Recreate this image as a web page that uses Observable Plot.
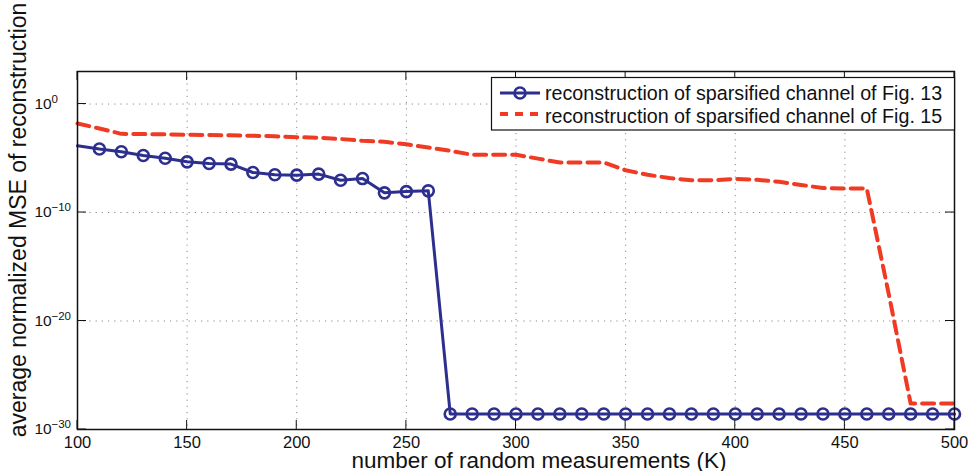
<!DOCTYPE html>
<html>
<head>
<meta charset="utf-8">
<script src="https://cdn.jsdelivr.net/npm/d3@7"></script>
<script src="https://cdn.jsdelivr.net/npm/@observablehq/plot@0.6"></script>
<style>
  body { margin: 0; background: #fff; }
  #chart svg { display: block; }
</style>
</head>
<body>
<div id="chart"></div>
<script>
// Number of random measurements K
const measurements = [100,110,120,130,140,150,160,170,180,190,200,210,220,230,240,250,260,270,280,290,300,
  310,320,330,340,350,360,370,380,390,400,410,420,430,440,450,460,470,480,490,500];

// Average normalized MSE, sparsified channel of Fig. 13
const mseFig13 = [1.4e-4,7.1e-5,4.0e-5,1.8e-5,1.0e-5,4.7e-6,3.3e-6,2.9e-6,4.9e-7,3.0e-7,2.8e-7,3.5e-7,9.5e-8,1.35e-7,
  6.5e-9,8.5e-9,1.0e-8,2.7e-29,2.7e-29,2.7e-29,2.7e-29,2.7e-29,2.7e-29,2.7e-29,2.7e-29,2.7e-29,2.7e-29,2.7e-29,
  2.7e-29,2.7e-29,2.7e-29,2.7e-29,2.7e-29,2.7e-29,2.7e-29,2.7e-29,2.7e-29,2.7e-29,2.7e-29,2.7e-29,2.7e-29];

// Average normalized MSE, sparsified channel of Fig. 15
const mseFig15 = [1.6e-2,5.6e-3,1.8e-3,1.7e-3,1.6e-3,1.5e-3,1.4e-3,1.3e-3,1.2e-3,1.07e-3,8.9e-4,7.9e-4,6.0e-4,4.1e-4,
  3.3e-4,1.95e-4,1.0e-4,4.9e-5,2.1e-5,2.1e-5,2.1e-5,9.3e-6,4.1e-6,4.1e-6,4.1e-6,7.9e-7,3.0e-7,1.5e-7,9.5e-8,9.5e-8,
  1.26e-7,1.05e-7,6.8e-8,3.5e-8,1.8e-8,1.66e-8,1.66e-8,3.2e-18,2.5e-28,2.5e-28,2.5e-28];

const xTicks = [100,150,200,250,300,350,400,450,500];
const yTickExponents = [0,-10,-20,-30];
const seriesNames = [
  "reconstruction of sparsified channel of Fig. 13",
  "reconstruction of sparsified channel of Fig. 15"
];
const xLabel = "number of random measurements (K)";
const yLabel = "average normalized MSE of reconstruction";

(() => {
  const BLUE = "#2c2f8e";
  const RED = "#ef3b24";
  const FONT = "'Liberation Sans', Arial, Helvetica, sans-serif";

  const rows13 = measurements.map((k, i) => ({k, mse: mseFig13[i]}));
  const rows15 = measurements.map((k, i) => ({k, mse: mseFig15[i]}));
  const yTicks = yTickExponents.map(e => Math.pow(10, e));

  const plot = Plot.plot({
    width: 968,
    height: 471,
    marginLeft: 77,
    marginRight: 14,
    marginTop: 71,
    marginBottom: 42,
    style: {fontFamily: FONT, background: "#fff", overflow: "visible", color: "#111"},
    x: {domain: [100, 500]},
    y: {type: "log", domain: [1e-30, 1e3], axis: null},
    marks: [
      // dotted grid
      Plot.ruleX(xTicks, {stroke: "#8a8a8a", strokeWidth: 1, strokeDasharray: "1.2,5"}),
      Plot.ruleY(yTicks, {stroke: "#8a8a8a", strokeWidth: 1, strokeDasharray: "1.2,5"}),
      // Fig. 15 series (dashed)
      Plot.line(rows15, {x: "k", y: "mse", stroke: RED, strokeWidth: 4, strokeDasharray: "12,7"}),
      // Fig. 13 series (solid with circles)
      Plot.line(rows13, {x: "k", y: "mse", stroke: BLUE, strokeWidth: 3}),
      Plot.dot(rows13.filter(d => d.k > 100), {x: "k", y: "mse", r: 5.5, stroke: BLUE, strokeWidth: 2.6, fill: "none"}),
      Plot.frame({stroke: "#111", strokeWidth: 1.5}),
      Plot.axisX(xTicks, {tickSize: 0, tickPadding: 7, fontSize: 16.5, label: null, fill: "#111"}),
      // y tick labels: base "10" and exponent
      Plot.text(yTicks, {y: d => d, frameAnchor: "left", dx: -43, text: () => "10",
        textAnchor: "start", fontSize: 15.5, fill: "#111"}),
      Plot.text(yTickExponents, {y: e => Math.pow(10, e), frameAnchor: "left", dx: -26, dy: -5,
        text: e => e === 0 ? "0" : "\u2212" + Math.abs(e), textAnchor: "start", fontSize: 11.5, fill: "#111"}),
      // axis titles
      Plot.text([xLabel], {frameAnchor: "bottom", dx: 23, dy: 38, text: d => d, fontSize: 22.5,
        textAnchor: "middle", lineAnchor: "bottom", fill: "#111"}),
      Plot.text([yLabel], {frameAnchor: "left", dx: -51.5, dy: -30.5, text: d => d, fontSize: 23, rotate: -90,
        textAnchor: "middle", lineAnchor: "bottom", fill: "#111"})
    ]
  });

  document.getElementById("chart").appendChild(plot);

  // inward tick marks on all four sides of the box
  const sx = plot.scale("x"), sy = plot.scale("y");
  const svg = d3.select(plot);
  const x0 = 77, x1 = 968 - 14, y0 = 71, y1 = 471 - 42, len = 9;
  const tickG = svg.append("g").attr("stroke", "#111").attr("stroke-width", 1);
  xTicks.forEach(v => {
    const x = sx.apply(v);
    tickG.append("line").attr("x1", x).attr("x2", x).attr("y1", y1).attr("y2", y1 - len);
    tickG.append("line").attr("x1", x).attr("x2", x).attr("y1", y0).attr("y2", y0 + len);
  });
  yTicks.forEach(v => {
    const y = sy.apply(v);
    tickG.append("line").attr("x1", x0).attr("x2", x0 + len).attr("y1", y).attr("y2", y);
    tickG.append("line").attr("x1", x1).attr("x2", x1 - len).attr("y1", y).attr("y2", y);
  });

  // legend
  const lg = svg.append("g").attr("font-family", FONT).attr("font-size", 19.7)
    .attr("fill", "#111").attr("text-anchor", "start");
  lg.append("rect").attr("x", 491.5).attr("y", 77.5).attr("width", 463).attr("height", 52.5)
    .attr("fill", "#fff").attr("stroke", "#111").attr("stroke-width", 1.2);
  lg.append("line").attr("x1", 500).attr("x2", 540).attr("y1", 93).attr("y2", 93)
    .attr("stroke", BLUE).attr("stroke-width", 3);
  lg.append("circle").attr("cx", 520).attr("cy", 93).attr("r", 5.5)
    .attr("fill", "none").attr("stroke", BLUE).attr("stroke-width", 2.6);
  lg.append("line").attr("x1", 500).attr("x2", 540).attr("y1", 114).attr("y2", 114)
    .attr("stroke", RED).attr("stroke-width", 4).attr("stroke-dasharray", "8,7");
  lg.append("text").attr("x", 545).attr("y", 99.5).text(seriesNames[0]);
  lg.append("text").attr("x", 545).attr("y", 123).text(seriesNames[1]);
})();
</script>
</body>
</html>
